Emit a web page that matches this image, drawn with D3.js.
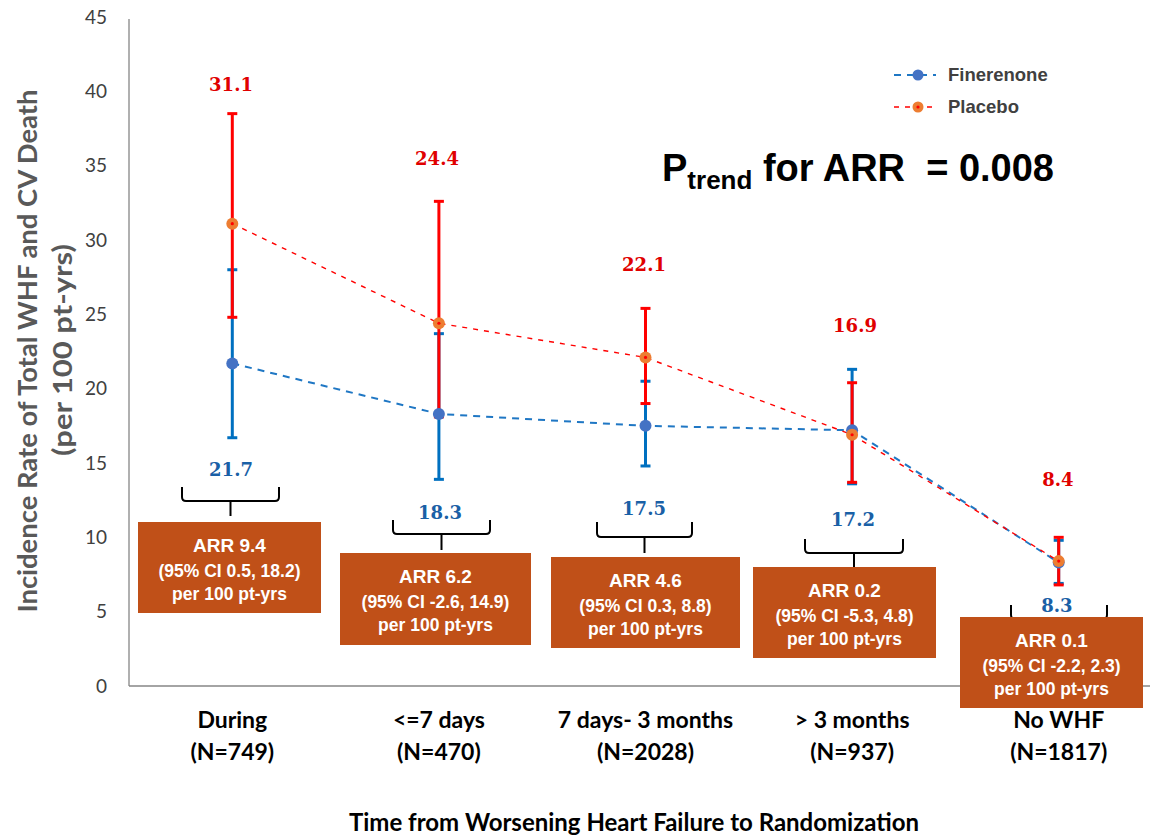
<!DOCTYPE html>
<html>
<head>
<meta charset="utf-8">
<script src="https://cdn.jsdelivr.net/npm/d3@7/dist/d3.min.js"></script>
<style>
  html, body { margin: 0; padding: 0; background: #fff; }
  svg { display: block; }
</style>
</head>
<body>
<svg id="chart" width="1150" height="838"></svg>
<script>
// ---- data ----
const categories = ["During", "<=7 days", "7 days- 3 months", "> 3 months", "No WHF"];
const nCounts = [749, 470, 2028, 937, 1817];

const finerenone   = [21.7, 18.3, 17.5, 17.2, 8.3];
const finerenoneLo = [16.7, 13.9, 14.8, 13.6, 6.9];
const finerenoneHi = [28.0, 23.7, 20.5, 21.3, 9.8];

const placebo   = [31.1, 24.4, 22.1, 16.9, 8.4];
const placeboLo = [24.8, 18.1, 19.0, 13.7, 6.8];
const placeboHi = [38.5, 32.6, 25.4, 20.4, 10.0];

const arr   = [9.4, 6.2, 4.6, 0.2, 0.1];
const arrLo = [0.5, -2.6, 0.3, -5.3, -2.2];
const arrHi = [18.2, 14.9, 8.8, 4.8, 2.3];

const yTicks = [0, 5, 10, 15, 20, 25, 30, 35, 40, 45];
const pTrend = "0.008";

// ---- annotation layout (pixels) ----
const redLabelPos  = [[231, 91], [437, 165], [644, 271], [855, 332], [1058, 486]];
const blueLabelPos = [[231, 476], [440, 519], [644, 515], [853, 526], [1057, 612]];
// brace: left, right, top, horizontal, tick end
const braces = [
  [182, 279, 487, 501, 516],
  [393, 490, 520, 534, 550],
  [597, 692, 522, 537, 553],
  [805, 903, 539, 553, 567],
  [1011, 1107, 605, 619, 630]
];
// ARR boxes: left, top, right, bottom
const boxes = [
  [138, 522, 321, 613],
  [340, 553, 531, 645],
  [551, 557, 740, 648],
  [753, 567, 936, 658],
  [960, 617, 1143, 708]
];

const svg = d3.select("#chart");
const plot = { left: 129, right: 1162, top: 17, bottom: 686 };

const x = d3.scaleBand().domain(categories).range([plot.left, plot.right]);
const cx = c => x(c) + x.bandwidth() / 2;
const y = d3.scaleLinear().domain([0, 45]).range([plot.bottom, plot.top]);

const blue = "#0070c0";
const red = "#ff0000";

// ---- axes ----
const yAxis = d3.axisLeft(y).tickValues(yTicks).tickSize(0).tickPadding(22);
const gy = svg.append("g").attr("transform", `translate(${plot.left},0)`).call(yAxis);
gy.select(".domain").remove();
gy.selectAll("text")
  .attr("font-family", "Lato, sans-serif")
  .attr("font-size", 19)
  .attr("fill", "#404040");

svg.append("line")
  .attr("x1", plot.left).attr("x2", plot.left)
  .attr("y1", 19).attr("y2", plot.bottom)
  .attr("stroke", "#868686").attr("stroke-width", 1.3);
svg.append("line")
  .attr("x1", plot.left).attr("x2", 1150)
  .attr("y1", plot.bottom).attr("y2", plot.bottom)
  .attr("stroke", "#868686").attr("stroke-width", 1.3);

// y axis title
const yTitle = svg.append("g").attr("font-family", "Lato, sans-serif")
  .attr("font-weight", "bold").attr("fill", "#595959").attr("font-size", 26)
  .attr("text-anchor", "middle");
yTitle.append("text")
  .attr("transform", "translate(37,351) rotate(-90)")
  .attr("textLength", 523).attr("lengthAdjust", "spacingAndGlyphs")
  .text("Incidence Rate of Total WHF and CV Death");
yTitle.append("text")
  .attr("transform", "translate(72,350) rotate(-90)")
  .attr("textLength", 212).attr("lengthAdjust", "spacingAndGlyphs")
  .text("(per 100 pt-yrs)");

// category labels
const xl = svg.append("g").attr("font-family", "Lato, sans-serif")
  .attr("font-weight", "bold").attr("font-size", 23).attr("fill", "#000")
  .attr("text-anchor", "middle");
categories.forEach((c, i) => {
  xl.append("text").attr("x", cx(c)).attr("y", 728).text(c);
  xl.append("text").attr("x", cx(c)).attr("y", 760).text(`(N=${nCounts[i]})`);
});
svg.append("text")
  .attr("x", 634).attr("y", 831)
  .attr("text-anchor", "middle")
  .attr("font-family", "Lato, sans-serif").attr("font-weight", "bold")
  .attr("font-size", 24).attr("fill", "#000")
  .text("Time from Worsening Heart Failure to Randomization");

// ---- braces ----
const bg = svg.append("g").attr("fill", "none").attr("stroke", "#000").attr("stroke-width", 2);
braces.forEach(([x0, x1, yt, yh, ye]) => {
  const xc = (x0 + x1) / 2, r = 4;
  bg.append("path").attr("d",
    `M${x0},${yt} V${yh - r} Q${x0},${yh} ${x0 + r},${yh} H${x1 - r} Q${x1},${yh} ${x1},${yh - r} V${yt}` +
    ` M${xc},${yh} V${ye}`);
});

// ---- error bars ----
function errorBars(lo, hi, color) {
  const g = svg.append("g").attr("stroke", color).attr("stroke-width", 3);
  categories.forEach((c, i) => {
    const xc = cx(c);
    g.append("line").attr("x1", xc).attr("x2", xc).attr("y1", y(lo[i])).attr("y2", y(hi[i]));
    g.append("line").attr("x1", xc - 5).attr("x2", xc + 5).attr("y1", y(lo[i])).attr("y2", y(lo[i]));
    g.append("line").attr("x1", xc - 5).attr("x2", xc + 5).attr("y1", y(hi[i])).attr("y2", y(hi[i]));
  });
}
errorBars(finerenoneLo, finerenoneHi, blue);
errorBars(placeboLo, placeboHi, red);

// ---- series lines ----
const line = d3.line().x((d, i) => cx(categories[i])).y(d => y(d));
svg.append("path").datum(finerenone).attr("d", line)
  .attr("fill", "none").attr("stroke", "#1f77c4").attr("stroke-width", 2)
  .attr("stroke-dasharray", "7,6");
svg.append("path").datum(placebo).attr("d", line)
  .attr("fill", "none").attr("stroke", red).attr("stroke-width", 1.4)
  .attr("stroke-dasharray", "5,6");

// ---- markers ----
svg.append("g").selectAll("circle").data(finerenone).join("circle")
  .attr("cx", (d, i) => cx(categories[i])).attr("cy", d => y(d))
  .attr("r", 6).attr("fill", "#4472c4");
const pm = svg.append("g");
pm.selectAll("circle.o").data(placebo).join("circle").attr("class", "o")
  .attr("cx", (d, i) => cx(categories[i])).attr("cy", d => y(d))
  .attr("r", 6).attr("fill", "#ed7d31");
pm.selectAll("circle.c").data(placebo).join("circle").attr("class", "c")
  .attr("cx", (d, i) => cx(categories[i])).attr("cy", d => y(d))
  .attr("r", 1.6).attr("fill", red);

// ---- value labels ----
const vl = svg.append("g").attr("font-family", "'DejaVu Serif', serif")
  .attr("font-weight", "bold").attr("font-size", 18).attr("text-anchor", "middle");
placebo.forEach((v, i) => {
  vl.append("text").attr("x", redLabelPos[i][0]).attr("y", redLabelPos[i][1])
    .attr("fill", "#e00000").text(v.toFixed(1));
});
finerenone.forEach((v, i) => {
  vl.append("text").attr("x", blueLabelPos[i][0]).attr("y", blueLabelPos[i][1])
    .attr("fill", "#1a60a6").text(v.toFixed(1));
});

// ---- ARR boxes ----
const fmt = v => v.toFixed(1);
boxes.forEach(([l, t, r, b], i) => {
  const g = svg.append("g");
  g.append("rect").attr("x", l).attr("y", t).attr("width", r - l).attr("height", b - t)
    .attr("fill", "#c05018");
  const mx = (l + r) / 2;
  const tx = g.append("g").attr("fill", "#fff").attr("font-family", "'Liberation Sans', Arial, sans-serif")
    .attr("font-weight", "bold").attr("text-anchor", "middle");
  tx.append("text").attr("x", mx).attr("y", t + 30).attr("font-size", 19).text(`ARR ${fmt(arr[i])}`);
  tx.append("text").attr("x", mx).attr("y", t + 55).attr("font-size", 17.5)
    .text(`(95% CI ${fmt(arrLo[i])}, ${fmt(arrHi[i])})`);
  tx.append("text").attr("x", mx).attr("y", t + 78).attr("font-size", 17.5).text("per 100 pt-yrs");
});

// ---- legend ----
const lg = svg.append("g");
const legendItems = [
  { name: "Finerenone", y: 75, stroke: "#1f77c4", dash: "7,6", w: 2, fill: "#4472c4", dot: false },
  { name: "Placebo", y: 107, stroke: red, dash: "5,6", w: 1.4, fill: "#ed7d31", dot: true }
];
legendItems.forEach(it => {
  lg.append("line").attr("x1", 894).attr("x2", 936).attr("y1", it.y).attr("y2", it.y)
    .attr("stroke", it.stroke).attr("stroke-width", it.w).attr("stroke-dasharray", it.dash);
  lg.append("circle").attr("cx", 918).attr("cy", it.y).attr("r", 5.5).attr("fill", it.fill);
  if (it.dot) lg.append("circle").attr("cx", 918).attr("cy", it.y).attr("r", 1.6).attr("fill", red);
  lg.append("text").attr("x", 948).attr("y", it.y + 6)
    .attr("font-family", "'Liberation Sans', Arial, sans-serif").attr("font-weight", "bold")
    .attr("font-size", 18.5).attr("fill", "#404040").text(it.name);
});

// ---- trend annotation ----
const pt = svg.append("text").attr("x", 662).attr("y", 181)
  .style("white-space", "pre")
  .attr("font-family", "'Liberation Sans', Arial, sans-serif").attr("font-weight", "bold")
  .attr("font-size", 38).attr("fill", "#000");
pt.append("tspan").text("P");
pt.append("tspan").attr("font-size", 26).attr("dy", 8).text("trend");
pt.append("tspan").attr("dy", -8).text(` for ARR  = ${pTrend}`);
</script>
</body>
</html>
